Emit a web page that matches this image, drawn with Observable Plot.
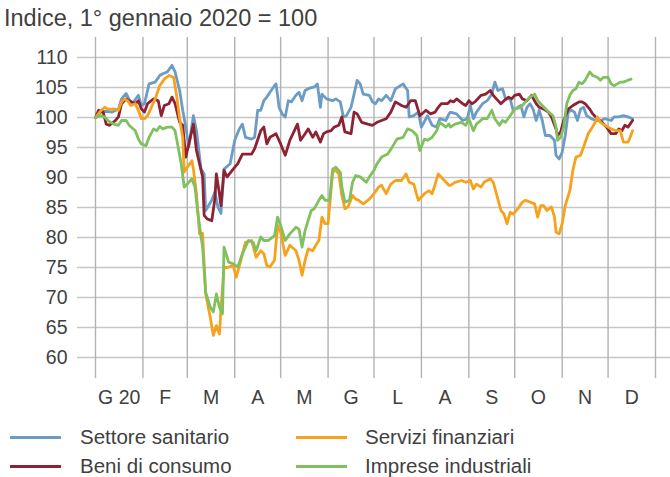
<!DOCTYPE html>
<html><head><meta charset="utf-8">
<script src="https://cdn.jsdelivr.net/npm/d3@7"></script>
<script src="https://cdn.jsdelivr.net/npm/@observablehq/plot@0.6"></script>
<style>
body{margin:0;background:#fff;}
#wrap{width:670px;height:477px;font-family:"Liberation Sans",Arial,sans-serif;color:#404040;position:relative;overflow:hidden;}
#title{height:37px;line-height:37px;font-size:23.5px;padding-left:4px;white-space:nowrap;}
#chart svg{display:block;}
#legend{position:relative;height:67px;font-size:20.5px;}
.sw{position:absolute;height:3px;width:51px;}
.lt{position:absolute;line-height:24px;white-space:nowrap;}
</style></head>
<body>
<div id="wrap">
  <div id="title">Indice, 1° gennaio 2020 = 100</div>
  <div id="chart"></div>
  <div id="legend"></div>
</div>
<script>
const seriesNames = ["Settore sanitario", "Beni di consumo", "Servizi finanziari", "Imprese industriali"];
const seriesColors = ["#6b9cc5", "#8c2232", "#f6a21d", "#80c05e"];
const monthLabels = ["G 20", "F", "M", "A", "M", "G", "L", "A", "S", "O", "N", "D"];
const yTicks = [60, 65, 70, 75, 80, 85, 90, 95, 100, 105, 110];

// [giorno dal 1° gennaio 2020, valore indice]
const settoreSanitario = [[0,100],[4,101],[8,101],[11,100.9],[15,101.4],[17,103.1],[20,104],[22,103],[24,102.3],[28,103.7],[30,102],[32,102.3],[35,105.6],[39,105.9],[42,107],[44,107.3],[47,107.6],[50,108.7],[52,107.6],[55,104.5],[57,101.2],[59,98.4],[61,95.1],[64,100.3],[66,97.8],[69,91.4],[71,90.6],[72,84.5],[76,86.2],[78,87.6],[80,85.1],[82,84],[84,91.4],[88,92.3],[91,96.2],[94,98.1],[96,98.9],[98,96.7],[102,96.4],[104,96.7],[106,101.2],
[108,101.2],[110,102.8],[112,103.4],[114,104.2],[117,105.3],[118,105.6],[120,101.7],[122,100.6],[124,100.1],[126,102.8],[128,102.6],[131,103.7],[133,104.2],[135,102.8],[137,104.5],[139,104.8],[143,105.1],[145,105.6],[147,101.7],[148,103.9],[151,103.1],[155,102.8],[157,103.1],[160,102.6],[162,100.1],[164,100.3],[167,101.7],[169,103.9],[171,106.2],[173,105.6],[175,103.9],[179,103.7],[181,102.6],[183,102.3],[185,103.1],[187,102.8],[190,103.7],[193,102.8],[196,104.8],[198,105.1],[201,105.6],[204,104.5],[205,100.1],[208,100.3],[211,100.9],[213,98.4],[217,100.3],[220,98.7],[223,98.4],[225,99.8],[229,99.5],[231,100.6],
[232,100.9],[236,100.6],[240,99.5],[243,99.8],[245,102],[247,99.8],[249,100.9],[253,102.3],[256,102.8],[259,103.9],[261,105.9],[263,104.5],[266,104.8],[268,103.1],[271,103.1],[273,101.2],[276,101.7],[278,102],[280,100.1],[282,101.7],[284,102.3],[286,101.4],[288,99.5],[290,101.2],[292,99.5],[294,97],[297,97],[300,96.2],[301,93.7],[303,93.1],[305,94.2],[307,97],[309,100.9],[311,101.2],[313,100.9],[315,99.5],[317,101.4],[319,101.7],[321,100.3],[324,99.8],[327,99.5],[330,99.5],[333,99.8],[337,99.5],[339,100.1],[342,100.1],[345,100.3],[348,100.1],[351,99.8]];

const beniConsumo = [[0,100],[2,101.2],[5,100.9],[7,98.9],[9,98.7],[13,99.5],[15,100.1],[17,102.3],[20,103.1],[22,102.8],[26,102.3],[28,102.8],[30,101.4],[32,100.9],[34,102.3],[38,103.1],[41,102.8],[43,100.3],[45,102],[48,102.3],[50,103.4],[52,102.3],[55,99.2],[57,98.7],[59,93.4],[60,94.5],[64,98.9],[66,94.5],[68,92.3],[70,90.1],[71,83.7],[73,83.1],[76,82.8],[78,86.4],[79,90.6],[81,87.3],[82,85.3],[84,91.2],[86,90.1],[90,91.4],[93,92.3],[96,93.9],[98,93.9],[102,93.9],[104,94.8],
[108,97.8],[110,98.4],[112,95.6],[114,96.7],[118,97.3],[121,95.6],[124,93.7],[127,96.2],[130,97.8],[132,98.9],[134,96.2],[137,97.3],[139,98.1],[142,96.7],[144,97.6],[147,95.9],[149,97.3],[151,97.6],[154,97.8],[156,98.4],[159,98.7],[161,100.1],[163,97.6],[167,97.3],[169,100.9],[171,100.6],[174,99.2],[178,98.9],[181,98.7],[184,99.2],[187,99.5],[190,99.8],[193,100.9],[196,102.6],[200,102],[203,101.7],[206,102.8],[209,102.8],[212,100.3],[216,101.2],[219,100.6],[222,100.9],[224,101.7],[226,102.3],[230,102.3],
[232,102.8],[234,102.6],[236,103.1],[240,102.3],[242,102],[244,102.8],[246,102.3],[248,102.6],[252,103.7],[255,103.9],[258,104.5],[260,103.7],[262,103.1],[265,102.3],[267,102.8],[270,103.4],[272,103.1],[274,103.7],[277,103.9],[279,103.1],[282,102.8],[285,103.7],[288,102.3],[290,101.7],[293,101.4],[296,100.9],[298,100.1],[301,98.1],[302,97],[304,97.6],[306,99.5],[309,101.4],[312,102],[314,102.3],[316,102.6],[318,102.6],[320,102.3],[323,101.4],[325,100.6],[328,99.8],[331,99.2],[334,98.4],[337,97.3],[340,97.3],[342,98.1],[344,97.8],[346,98.7],[348,98.4],[351,99.5]];

const serviziFinanziari = [[0,100],[3,101],[6,101.7],[8,101.4],[10,101.4],[13,101.4],[15,101.2],[17,102.6],[19,103.1],[21,102.8],[23,102],[26,102.3],[28,101.2],[30,99.8],[32,99.8],[34,100.3],[36,101.4],[39,103.1],[42,105.3],[45,106.4],[48,107],[51,106.7],[53,103.7],[55,99.8],[57,96.7],[58,90.9],[60,91.7],[63,92.8],[64,91.4],[66,87.3],[68,80.6],[70,80.7],[72,70.6],[75,66.7],[77,63.7],[79,65.3],[81,63.9],[82,68.1],[84,75],[86,75],[90,75.3],[92,73.4],[95,76.2],[98,79.2],[102,79.5],[105,76.7],
[108,77.8],[110,77.3],[112,75.3],[114,75.1],[117,76.2],[119,82],[121,80.9],[124,77],[127,78.7],[131,77.8],[133,76.2],[135,73.7],[137,76.2],[139,78.1],[142,77.8],[144,78.7],[146,79.5],[148,83.4],[150,82.3],[152,82.3],[155,90.9],[157,91.2],[159,90.6],[161,87],[163,84.8],[165,85.1],[168,87],[170,86.4],[172,86.2],[175,85.6],[179,86.4],[182,87.3],[185,88.4],[187,88.7],[190,87.3],[193,88.9],[196,89.5],[200,89.5],[203,90.6],[205,89.2],[208,88.9],[211,86.2],[215,87.3],[218,87.8],[220,87.3],[222,88.9],[224,90.6],[228,89.5],[231,88.7],
[232,88.7],[235,89.2],[239,89.5],[242,89.2],[245,89.5],[247,88.1],[249,88.9],[252,88.4],[254,89.2],[256,89.5],[258,89.8],[260,89.2],[262,87.3],[265,84.5],[267,83.9],[269,82.3],[271,84.2],[273,83.9],[276,84.8],[279,85.9],[281,86.2],[284,85.9],[287,85.6],[289,83.4],[291,85.3],[293,85.3],[295,84.5],[298,85.1],[300,83.4],[301,80.9],[303,80.6],[305,82.3],[307,85.3],[310,87.8],[312,91.2],[314,93.4],[317,93.7],[319,95.1],[322,97.3],[324,98.1],[326,98.9],[328,100.1],[330,99.2],[333,98.7],[337,98.1],[340,97.8],[343,97.8],[345,95.9],[348,95.9],[349,96.4],[351,97.8]];

const impreseIndustriali = [[0,100],[3,100.3],[6,100.1],[8,99.5],[12,98.9],[15,98.7],[17,99.5],[20,99.5],[22,98.7],[26,97.8],[28,96.4],[30,95.6],[33,95.3],[35,96.7],[38,98.1],[40,97.8],[42,98.5],[44,98.1],[47,98.4],[50,98.4],[52,97.8],[54,95.1],[56,92.3],[58,88.4],[60,88.9],[63,89.8],[65,88.4],[67,83.9],[69,80.1],[70,78.4],[72,70.9],[75,68.4],[77,67.6],[79,70.6],[81,68.4],[83,67.3],[84,78.4],[87,75.9],[90,75.6],[93,75.1],[96,77.3],[100,79.5],[103,79.2],[105,77.8],
[108,80.1],[110,79.5],[113,79.5],[117,80.3],[119,83.4],[121,82],[124,79.5],[127,80.6],[131,81.7],[133,81.4],[135,78.4],[137,81.2],[141,84.5],[143,84.8],[146,86.2],[148,87],[150,86.2],[153,86.2],[155,91.4],[157,91.7],[160,90.9],[161,88.4],[163,85.9],[166,86.2],[168,89.2],[170,90.3],[173,90.1],[177,89.2],[179,90.1],[182,91.2],[184,92.3],[187,93.4],[191,93.9],[194,95.1],[197,96.4],[201,96.7],[204,98.1],[207,97.8],[210,97],[212,94.5],[215,96.4],[217,96.2],[220,96.7],[223,97.8],[225,99.2],[229,98.4],[231,98.9],
[232,98.4],[235,98.9],[239,99.2],[242,98.7],[244,99.8],[247,97.8],[249,98.9],[253,99.8],[256,99.8],[259,101.2],[261,99.8],[264,98.7],[266,99.5],[268,99.2],[271,100.3],[274,101.4],[278,101.7],[281,102.6],[284,103.4],[287,103.9],[289,102.8],[292,102],[295,101.2],[299,100.3],[301,98.4],[302,96.2],[304,96.7],[306,98.4],[308,102.3],[310,103.7],[312,104.5],[314,104.8],[316,105.9],[318,105.6],[320,106.2],[323,107.6],[325,107],[328,106.7],[330,106.2],[332,106.7],[335,106.7],[337,105.6],[339,105.3],[341,105.6],[343,105.9],[345,105.9],[348,106.2],[350,106.4]];

const seriesValues = [settoreSanitario, beniConsumo, serviziFinanziari, impreseIndustriali];

const t0 = Date.UTC(2020, 0, 1);
const dayToDate = d => new Date(t0 + d * 864e5);
const rows = [];
seriesValues.forEach((arr, i) => arr.forEach(([d, v]) => rows.push({series: seriesNames[i], date: dayToDate(d), value: v})));

const monthStarts = d3.range(13).map(m => new Date(Date.UTC(2020, m, 1)));
const monthMids = d3.range(12).map(m => ({date: new Date((monthStarts[m].getTime() + monthStarts[m + 1].getTime()) / 2), label: monthLabels[m]}));

const font = '"Liberation Sans", Arial, sans-serif';
const chart = Plot.plot({
  width: 670, height: 373,
  marginLeft: 77, marginRight: 0, marginTop: 0, marginBottom: 32,
  style: {fontFamily: font, fontSize: "19.5px", color: "#404040", background: "transparent", overflow: "visible"},
  x: {type: "utc", domain: [monthStarts[0], monthStarts[12]], range: [95, 655], axis: null},
  y: {domain: [60, 110], range: [320, 20], axis: null},
  color: {domain: seriesNames, range: seriesColors},
  marks: [
    Plot.ruleY(yTicks, {stroke: "#c6c6c6", strokeWidth: 1.6}),
    Plot.ruleX(monthStarts, {stroke: "#b2b2b2", strokeWidth: 1.4}),
    Plot.axisY(yTicks, {tickSize: 0, tickPadding: 10, fontSize: 19.5, fill: "#404040", label: null}),
    Plot.text(monthMids, {x: "date", text: "label", frameAnchor: "bottom", dy: 19, lineAnchor: "middle", fontSize: 19.5, fill: "#404040"}),
    Plot.line(rows, {x: "date", y: "value", z: "series", stroke: "series", strokeWidth: 2.8, strokeLinejoin: "round"})
  ]
});
document.getElementById("chart").appendChild(chart);

const legend = document.getElementById("legend");
const pos = [[10, 80, 27], [10, 80, 56], [296, 365, 27], [296, 365, 56]];
seriesNames.forEach((name, i) => {
  const [sx, tx, cy] = pos[i];
  const sw = document.createElement("div");
  sw.className = "sw"; sw.style.left = sx + "px"; sw.style.top = (cy - 1.5) + "px"; sw.style.background = seriesColors[i];
  const lt = document.createElement("div");
  lt.className = "lt"; lt.style.left = tx + "px"; lt.style.top = (cy - 12) + "px"; lt.textContent = name;
  legend.appendChild(sw); legend.appendChild(lt);
});
</script>
</body></html>
